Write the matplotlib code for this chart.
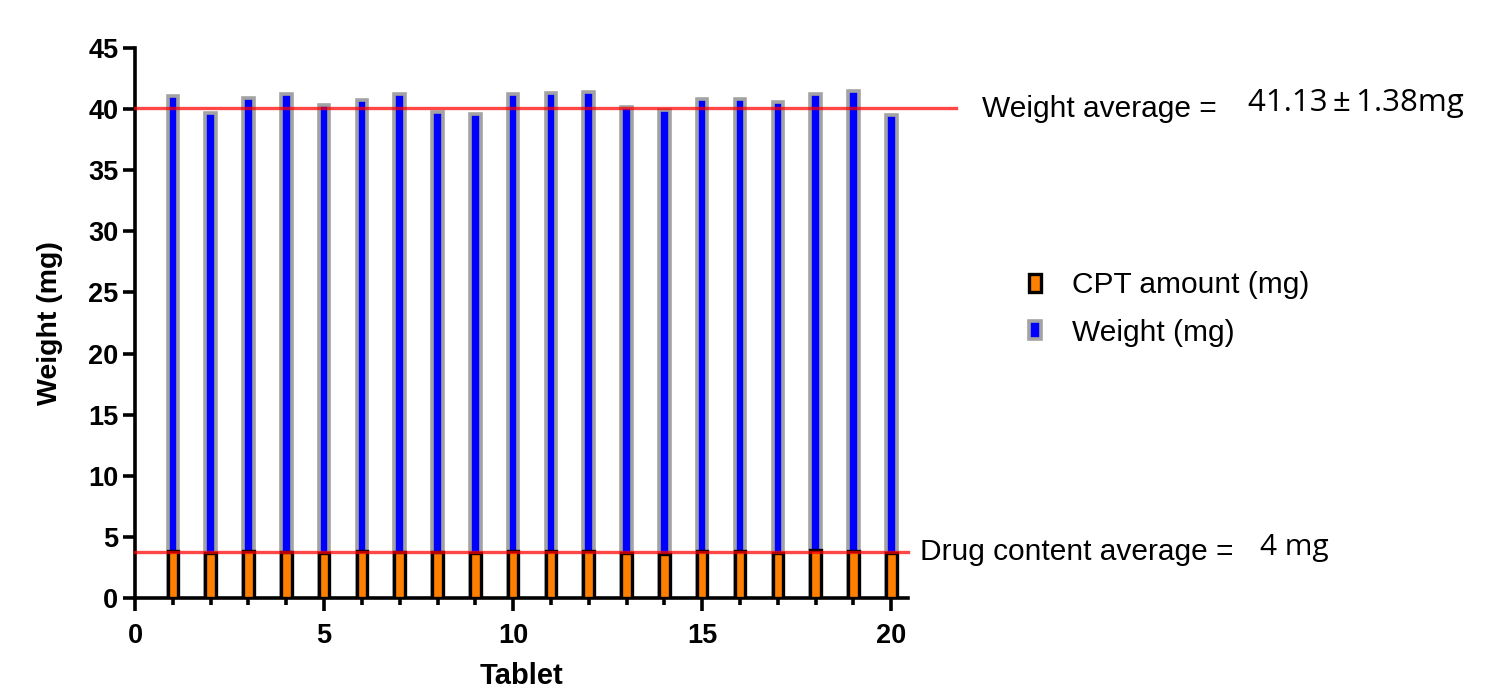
import numpy as np
import matplotlib
matplotlib.use('Agg')
import matplotlib.pyplot as plt

tablets = np.arange(1, 21)
weight = [41.1, 39.65, 40.9, 41.2, 40.35, 40.75, 41.2, 39.8, 39.6, 41.2,
          41.3, 41.4, 40.2, 39.95, 40.8, 40.8, 40.6, 41.2, 41.5, 39.5]
cpt = [3.85, 3.7, 3.85, 3.8, 3.7, 3.85, 3.8, 3.8, 3.65, 3.85,
       3.85, 3.85, 3.7, 3.6, 3.85, 3.85, 3.7, 3.9, 3.85, 3.7]
weight_avg_line = 40.1
drug_avg_line = 3.8

plt.rcParams['font.family'] = ['Liberation Sans', 'DejaVu Sans']

fig = plt.figure(figsize=(14.87, 6.88), dpi=100)
ax = fig.add_axes([0.0908, 0.1308, 0.52, 0.7994])

ax.bar(tablets, weight, width=0.28, color='#0000ff', edgecolor='#a3a3a3',
       linewidth=2.6, label='Weight (mg)', zorder=2)
ax.bar(tablets, cpt, width=0.28, color='#ff8000', edgecolor='black',
       linewidth=2.4, label='CPT amount (mg)', zorder=3)

ax.plot([0, 21.72], [weight_avg_line] * 2, color='red', alpha=0.72, lw=2.4,
        clip_on=False, zorder=4)
ax.plot([0, 20.45], [drug_avg_line] * 2, color='red', alpha=0.72, lw=2.4,
        clip_on=False, zorder=4)

ax.text(22.4, 40.0, 'Weight average =', fontsize=21.5, va='center', ha='left')
ax.text(29.44, 40.5, '41.13\u2009\u00b1\u20091.38mg', fontsize=22.5, va='center',
        ha='left', family=['Open Sans', 'DejaVu Sans'])
ax.text(20.77, 3.8, 'Drug content average =', fontsize=21.5, va='center', ha='left')
ax.text(29.76, 4.1, '4 mg', fontsize=21.5, va='center', ha='left',
        family=['Open Sans', 'DejaVu Sans'])

ax.set_xlim(0, 20.45)
ax.set_ylim(0, 45)
ax.set_xticks([0, 5, 10, 15, 20])
ax.set_xticks(tablets, minor=True)
ax.set_yticks(np.arange(0, 46, 5))

for s in ['top', 'right']:
    ax.spines[s].set_visible(False)
for s in ['left', 'bottom']:
    ax.spines[s].set_linewidth(2.6)

ax.tick_params(axis='both', which='major', width=2.6, length=9, labelsize=19.5)
ax.tick_params(axis='y', which='major', pad=3)
ax.tick_params(axis='x', which='major', pad=9)
ax.tick_params(axis='x', which='minor', width=2.6, length=5)
for lab in ax.get_xticklabels() + ax.get_yticklabels():
    lab.set_fontweight('bold')

ax.set_xlabel('Tablet', fontsize=21, fontweight='bold', labelpad=9)
ax.set_ylabel('Weight (mg)', fontsize=20.5, fontweight='bold', labelpad=18)

handles, labels = ax.get_legend_handles_labels()
ax.legend(handles[::-1], labels[::-1], loc='upper left',
          bbox_to_anchor=(0.674, 0.645), bbox_transform=fig.transFigure,
          frameon=False, fontsize=21.5, handlelength=0.4, handleheight=0.55,
          handletextpad=1.05, labelspacing=0.65)

fig.savefig('out.png', dpi=100)
